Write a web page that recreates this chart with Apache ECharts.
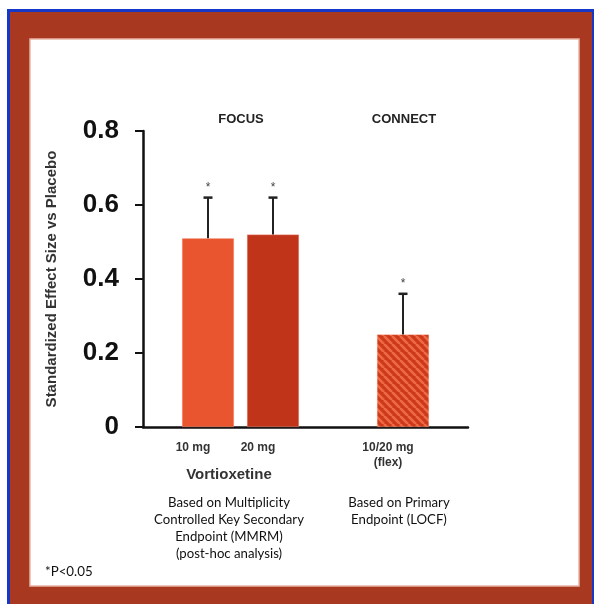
<!DOCTYPE html>
<html>
<head>
<meta charset="utf-8">
<script src="https://cdn.jsdelivr.net/npm/echarts@6/dist/echarts.min.js"></script>
<style>
html,body{margin:0;padding:0;background:#fff;}
#chart{width:594px;height:604px;}
</style>
</head>
<body>
<div id="chart"></div>
<script>
// ---- data ----
var categories = ['', '10 mg', '20 mg', '', '10/20 mg\n(flex)', ''];
var effectSize = [null, 0.51, 0.52, null, 0.25, null];
var errorTop   = [null, 0.62, 0.62, null, 0.36, null];
var significant = [false, true, true, false, true, false];
var yTicks = [0, 0.2, 0.4, 0.6, 0.8];
var groupNames = ['FOCUS', 'CONNECT'];
var drugName = 'Vortioxetine';
var noteLeft = ['Based on Multiplicity', 'Controlled Key Secondary', 'Endpoint (MMRM)', '(post-hoc analysis)'];
var noteRight = ['Based on Primary', 'Endpoint (LOCF)'];
var footnote = '*P<0.05';
var yAxisTitle = 'Standardized Effect Size vs Placebo';

// ---- styles ----
var barColors = ['#E8552F', '#C0341A'];
function hatch() {
  var c = document.createElement('canvas');
  c.width = 8; c.height = 8;
  var g = c.getContext('2d');
  g.fillStyle = '#CC3A1B';
  g.fillRect(0, 0, 8, 8);
  g.strokeStyle = '#EE6A44';
  g.lineWidth = 2.6;
  [-8, 0, 8].forEach(function (k) {
    g.beginPath(); g.moveTo(k, 0); g.lineTo(k + 8, 8); g.stroke();
  });
  return c;
}
var hatchPattern = {image: hatch(), repeat: 'repeat'};

var barData = [];
var colorIdx = 0;
effectSize.forEach(function (v, i) {
  if (v == null) { barData.push(null); return; }
  var col = (i === 4) ? hatchPattern : barColors[colorIdx++];
  barData.push({value: v, itemStyle: {color: col}});
});
var errData = [];
effectSize.forEach(function (v, i) {
  if (v != null) errData.push([i, v, errorTop[i], significant[i] ? 1 : 0]);
});

var chart = echarts.init(document.getElementById('chart'), null, {renderer: 'canvas'});
var FF = '"Liberation Sans", Arial, sans-serif';
var NF = 'Lato, "Open Sans", sans-serif';

function txt(s, x, y, font, color, align) {
  return {type: 'text', z: 5, style: {text: s, x: x, y: y, font: font, fill: color || '#222',
    textAlign: align || 'center', textVerticalAlign: 'middle'}};
}
var graphics = [
  {type: 'rect', z: -3, shape: {x: 7, y: 9, width: 587, height: 595}, style: {fill: '#1538C6'}},
  {type: 'rect', z: -2, shape: {x: 10, y: 12, width: 582, height: 592}, style: {fill: '#A8381F'}},
  {type: 'rect', z: -1, shape: {x: 30, y: 39, width: 549, height: 547}, style: {fill: '#ffffff', stroke: '#E9B4A6', lineWidth: 1.5}},
  txt(groupNames[0], 241, 119, 'bold 13px ' + FF, '#222'),
  txt(groupNames[1], 404, 119, 'bold 13px ' + FF, '#222'),
  txt(drugName, 229, 475, 'bold 15px ' + FF, '#333'),
  txt(footnote, 45, 572, '13.3px ' + NF, '#111', 'left')
];
noteLeft.forEach(function (s, i) { graphics.push(txt(s, 229, 503 + i * 16.8, '13.2px ' + NF, '#111')); });
noteRight.forEach(function (s, i) { graphics.push(txt(s, 399, 503 + i * 16.8, '13.2px ' + NF, '#111')); });

chart.setOption({
  animation: false,
  graphic: graphics,
  grid: {left: 143, right: 126, top: 131, bottom: 177, containLabel: false},
  xAxis: {
    type: 'category',
    data: categories,
    boundaryGap: false,
    axisLine: {lineStyle: {color: '#111', width: 2.5}},
    axisTick: {show: false},
    axisLabel: {
      interval: 0, margin: 13, fontFamily: FF, fontWeight: 'bold', fontSize: 12, color: '#333',
      lineHeight: 15, padding: [0, 30, 0, 0]
    },
    splitLine: {show: false}
  },
  yAxis: {
    type: 'value',
    min: 0, max: 0.8, interval: 0.2,
    name: yAxisTitle,
    nameLocation: 'middle',
    nameGap: 84,
    nameTextStyle: {fontFamily: FF, fontWeight: 'bold', fontSize: 15, color: '#333'},
    axisLine: {show: true, lineStyle: {color: '#111', width: 2.5}},
    axisTick: {show: true, inside: false, length: 8, lineStyle: {color: '#111', width: 2}},
    axisLabel: {
      margin: 24, fontFamily: FF, fontWeight: 'bold', fontSize: 26, color: '#111',
      formatter: function (v) { return yTicks.indexOf(+v.toFixed(1)) >= 0 ? (v === 0 ? '0' : v.toFixed(1)) : ''; }
    },
    splitLine: {show: false}
  },
  series: [
    {
      type: 'bar', data: barData, barWidth: 52, z: 2,
      itemStyle: {borderColor: 'rgba(255,170,150,0.6)', borderWidth: 0.5}
    },
    {
      type: 'custom', z: 5,
      data: errData,
      encode: {x: 0, y: [1, 2]},
      renderItem: function (params, api) {
        var x = api.value(0);
        var p0 = api.coord([x, api.value(1)]);
        var p1 = api.coord([x, api.value(2)]);
        var children = [
          {type: 'line', shape: {x1: p0[0], y1: p0[1], x2: p1[0], y2: p1[1]}, style: {stroke: '#222', lineWidth: 2}},
          {type: 'line', shape: {x1: p1[0] - 4.5, y1: p1[1], x2: p1[0] + 4.5, y2: p1[1]}, style: {stroke: '#222', lineWidth: 2.5}}
        ];
        if (api.value(3)) {
          children.push({type: 'text', style: {text: '*', x: p1[0], y: p1[1] - 10, font: '12px ' + FF, fill: '#444', textAlign: 'center', textVerticalAlign: 'middle'}});
        }
        return {type: 'group', children: children};
      }
    }
  ]
});
</script>
</body>
</html>
